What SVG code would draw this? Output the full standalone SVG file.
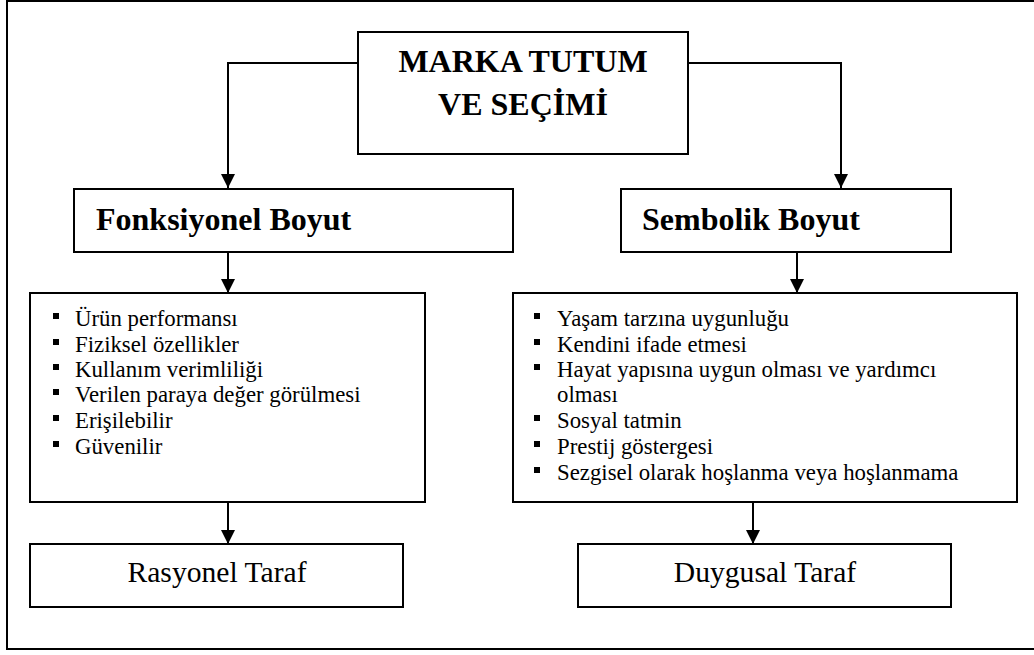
<svg xmlns="http://www.w3.org/2000/svg" width="1034" height="655" viewBox="0 0 1034 655">
<style>
.box{fill:#fff;stroke:#000;stroke-width:2}
.frame{fill:none;stroke:#000;stroke-width:2}
.con{fill:none;stroke:#000;stroke-width:2}
.bul{fill:#000}
</style>
<defs>
<marker id="ah" markerWidth="14" markerHeight="16" refX="14" refY="8" orient="auto" markerUnits="userSpaceOnUse">
<path d="M0,1 L14,8 L0,15 Z" fill="#000"/>
</marker>
</defs>
<rect class="frame" x="7" y="1" width="1040" height="648"/>
<g id="connectors">
<path class="con" d="M358,63 H228 V188" marker-end="url(#ah)"/>
<path class="con" d="M688,63 H841 V188" marker-end="url(#ah)"/>
<path class="con" d="M228,252 V293" marker-end="url(#ah)"/>
<path class="con" d="M797,252 V293" marker-end="url(#ah)"/>
<path class="con" d="M228,502 V544" marker-end="url(#ah)"/>
<path class="con" d="M753,502 V544" marker-end="url(#ah)"/>
</g>
<g font-family="Liberation Serif, serif" fill="#000">
<g id="main">
<rect class="box" x="358" y="32" width="330" height="122"/>
<text x="523" y="72" font-size="32" font-weight="bold" text-anchor="middle">MARKA TUTUM</text>
<text x="523" y="115" font-size="32" font-weight="bold" text-anchor="middle">VE SEÇİMİ</text>
</g>
<g id="fonksiyonel">
<rect class="box" x="74" y="189" width="439" height="63"/>
<text x="96" y="230" font-size="32" font-weight="bold">Fonksiyonel Boyut</text>
</g>
<g id="sembolik">
<rect class="box" x="621" y="189" width="330" height="63"/>
<text x="642" y="230" font-size="32" font-weight="bold">Sembolik Boyut</text>
</g>
<g id="fonk-list" font-size="22.8">
<rect class="box" x="30" y="293" width="395" height="209"/>
<g class="bul">
<rect x="53" y="313" width="6" height="6"/>
<rect x="53" y="339" width="6" height="6"/>
<rect x="53" y="364" width="6" height="6"/>
<rect x="53" y="389" width="6" height="6"/>
<rect x="53" y="415" width="6" height="6"/>
<rect x="53" y="441" width="6" height="6"/>
</g>
<text x="75" y="326">Ürün performansı</text>
<text x="75" y="352">Fiziksel özellikler</text>
<text x="75" y="377">Kullanım verimliliği</text>
<text x="75" y="402">Verilen paraya değer görülmesi</text>
<text x="75" y="428">Erişilebilir</text>
<text x="75" y="454">Güvenilir</text>
</g>
<g id="semb-list" font-size="22.8">
<rect class="box" x="513" y="293" width="504" height="209"/>
<g class="bul">
<rect x="534" y="313" width="6" height="6"/>
<rect x="534" y="339" width="6" height="6"/>
<rect x="534" y="364" width="6" height="6"/>
<rect x="534" y="415" width="6" height="6"/>
<rect x="534" y="441" width="6" height="6"/>
<rect x="534" y="467" width="6" height="6"/>
</g>
<text x="557" y="326">Yaşam tarzına uygunluğu</text>
<text x="557" y="352">Kendini ifade etmesi</text>
<text x="557" y="377">Hayat yapısına uygun olması ve yardımcı</text>
<text x="557" y="402">olması</text>
<text x="557" y="428">Sosyal tatmin</text>
<text x="557" y="454">Prestij göstergesi</text>
<text x="557" y="480">Sezgisel olarak hoşlanma veya hoşlanmama</text>
</g>
<g id="rasyonel">
<rect class="box" x="30" y="544" width="373" height="63"/>
<text x="217" y="582" font-size="29.6" text-anchor="middle">Rasyonel Taraf</text>
</g>
<g id="duygusal">
<rect class="box" x="578" y="544" width="373" height="63"/>
<text x="765" y="582" font-size="29.6" text-anchor="middle">Duygusal Taraf</text>
</g>
</g>
</svg>
